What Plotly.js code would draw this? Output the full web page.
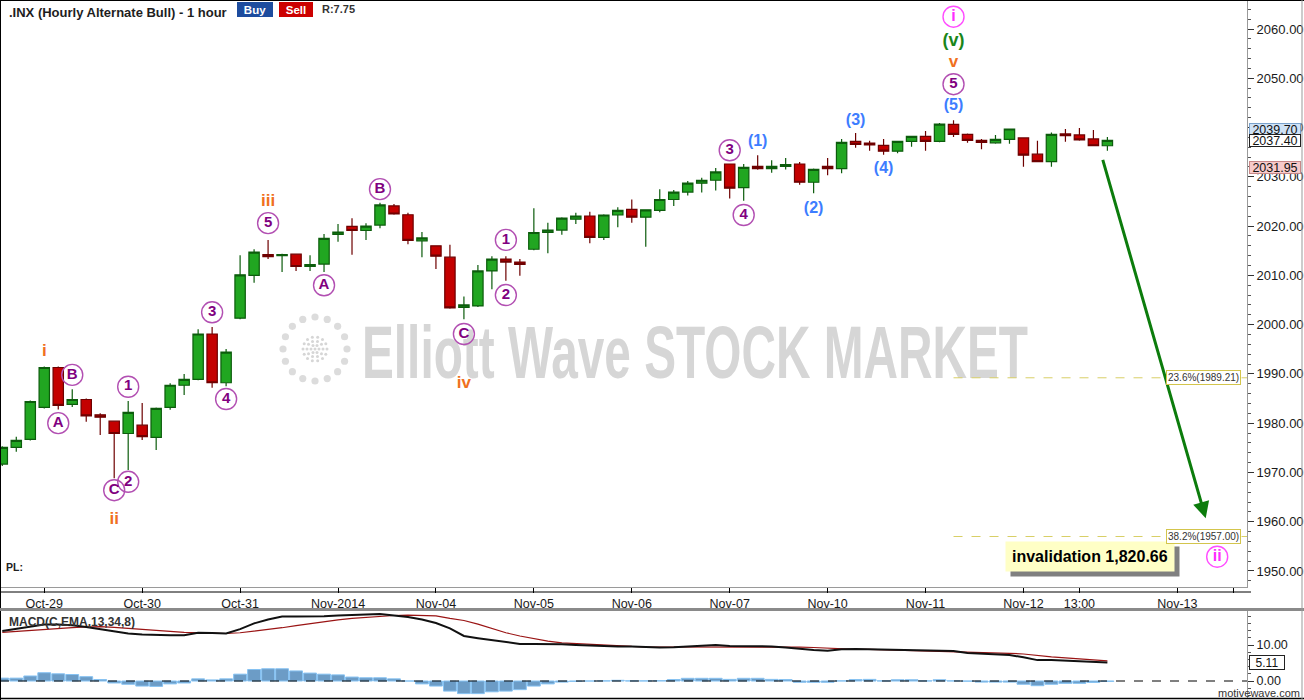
<!DOCTYPE html>
<html><head><meta charset="utf-8">
<script src="https://cdn.plot.ly/plotly-3.0.1.min.js"></script>
<style>
html,body{margin:0;padding:0;background:#fff;}
#wrap{position:relative;width:1304px;height:700px;overflow:hidden;background:#fff;}
#wm{position:absolute;left:0;top:0;width:1304px;height:700px;z-index:0;}
#chart{position:absolute;left:0;top:0;width:1304px;height:700px;z-index:1;}
</style></head>
<body><div id="wrap"><svg id="wm" width="1304" height="700"></svg><div id="chart"></div></div>
<script>
// ---------- data (hourly bars, index 0 = Oct-28 late session) ----------
const barOpen = [1971.7,1975.1,1976.7,1983.2,1991.3,1983.8,1984.8,1981.7,1980.4,1977.9,
 1979.6,1977.1,1983.2,1987.7,1988.9,1998.1,1988.2,2001.3,2010.0,2014.2,
 2014.0,2014.3,2011.8,2012.3,2018.33,2019.95,2019.1,2020.2,2024.1,2022.3,
 2017.0,2016.0,2013.7,2003.5,2003.8,2010.9,2013.3,2012.7,2015.3,2018.7,
 2019.2,2021.4,2022.05,2017.7,2022.25,2023.4,2021.8,2023.2,2025.4,2026.9,
 2028.7,2029.3,2032.6,2027.8,2032.1,2031.65,2032.1,2032.6,2028.9,2032.1,
 2031.65,2037.2,2036.86,2036.4,2035.2,2037.2,2038.2,2037.2,2040.66,2038.6,
 2037.4,2036.9,2037.6,2037.9,2034.6,2033.1,2038.7,2038.5,2037.7,2036.3];
const barHigh = [1975.3,1977.25,1984.6,1991.5,1991.5,1986.9,1985.0,1982.0,1980.5,1984.5,
 1984.1,1983.2,1988.1,1990.0,1999.05,1999.5,1995.05,2014.1,2015.3,2017.2,
 2014.4,2014.4,2014.1,2018.4,2020.4,2021.6,2020.6,2024.75,2024.5,2022.7,
 2018.8,2016.1,2016.2,2005.7,2012.1,2013.9,2013.9,2013.3,2023.6,2020.7,
 2021.8,2022.7,2022.9,2022.4,2023.8,2025.4,2023.4,2027.5,2027.3,2029.15,
 2029.8,2031.8,2032.7,2032.6,2034.4,2033.35,2033.8,2033.0,2031.7,2033.8,
 2037.7,2038.9,2037.3,2037.7,2037.3,2038.3,2039.3,2040.9,2041.5,2038.8,
 2037.7,2038.5,2039.8,2038.0,2037.3,2039.0,2039.7,2039.9,2039.5,2038.1];
const barLow = [1971.3,1974.2,1976.5,1983.0,1982.8,1983.3,1980.3,1977.6,1968.8,1970.5,
 1976.6,1974.55,1982.7,1985.7,1988.7,1987.2,1987.5,2001.1,2008.5,2013.3,
 2010.7,2010.9,2010.9,2010.7,2016.8,2014.2,2017.2,2019.55,2022.3,2016.3,
 2013.7,2011.3,2003.2,2001.1,2003.6,2007.2,2008.9,2009.9,2015.1,2014.5,
 2018.25,2020.4,2016.5,2017.2,2019.75,2020.7,2015.8,2022.8,2024.1,2026.2,
 2026.8,2027.2,2025.6,2025.15,2031.45,2030.8,2031.5,2028.4,2026.65,2030.3,
 2030.7,2035.9,2035.3,2034.5,2034.8,2036.1,2035.3,2037.0,2038.1,2036.9,
 2035.6,2036.7,2036.7,2032.05,2033.0,2032.05,2037.1,2037.3,2036.3,2035.3];
const barClose = [1975.1,1976.5,1984.4,1991.3,1983.6,1984.8,1981.5,1981.2,1977.9,1982.2,
 1977.25,1983.0,1987.7,1988.9,1998.1,1988.2,1994.4,2010.1,2014.7,2013.8,
 2014.2,2011.8,2012.2,2017.5,2018.8,2019.1,2020.0,2024.3,2022.45,2017.1,
 2017.6,2013.9,2003.4,2004.0,2010.9,2013.3,2012.7,2012.2,2018.7,2019.2,
 2021.6,2022.05,2017.7,2022.25,2023.2,2021.8,2023.3,2025.4,2026.9,2028.7,
 2029.3,2031.0,2027.7,2031.9,2031.65,2032.1,2032.5,2028.9,2031.5,2031.65,
 2037.0,2036.6,2036.5,2035.2,2037.2,2038.2,2037.2,2040.7,2038.6,2037.4,
 2037.0,2037.6,2039.7,2034.4,2033.1,2038.6,2038.35,2037.5,2036.3,2037.4];

const macdLine = [13.9,14.5,15.1,15.7,15.7,15.5,15.0,14.4,13.8,13.2,
 12.9,12.7,12.7,12.7,13.4,13.3,13.2,14.4,16.0,17.1,
 17.9,17.9,17.9,18.0,18.2,18.3,18.4,18.6,18.2,17.8,
 17.1,16.1,14.6,12.5,11.9,11.4,10.8,10.3,10.3,10.3,
 10.2,10.0,9.8,9.6,9.6,9.6,9.4,9.3,9.4,9.6,
 9.8,10.0,9.7,9.7,9.7,9.6,9.3,8.9,8.6,8.4,
 8.8,8.9,8.8,8.6,8.5,8.5,8.4,8.4,8.3,7.8,
 7.6,7.3,7.2,6.6,5.8,5.8,5.6,5.3,5.2,5.11];
const signalLine = [13.5,13.8,14.0,14.2,14.5,14.8,15.0,15.1,14.9,14.6,
 14.3,14.0,13.8,13.5,13.4,13.2,13.2,13.4,13.8,14.2,
 14.8,15.4,16.0,16.5,17.0,17.4,17.7,18.0,18.2,18.3,
 18.3,18.1,17.4,16.8,15.8,14.6,13.4,12.5,11.7,11.1,
 10.6,10.4,10.0,9.8,9.7,9.6,9.5,9.5,9.5,9.5,
 9.6,9.6,9.6,9.6,9.6,9.5,9.4,9.4,9.3,9.1,
 8.9,8.8,8.8,8.7,8.6,8.5,8.4,8.3,8.3,8.2,
 8.0,7.9,7.7,7.5,7.0,6.7,6.4,6.1,5.8,5.6];
const macdHist = [0.8,0.8,1.4,2.3,2.0,1.8,1.2,0.4,-0.55,-0.9,
 -1.4,-1.5,-0.8,-0.55,0.6,0.3,0.6,1.9,3.2,3.4,
 3.4,2.8,2.2,1.9,1.7,1.1,0.9,0.9,0.6,0.0,
 -0.8,-1.4,-2.8,-3.5,-3.5,-3.0,-2.8,-2.4,-1.4,-0.8,
 -0.3,-0.1,0.0,0.05,0.2,0.05,0.05,0.1,0.4,0.75,
 0.75,0.75,0.45,0.75,0.75,0.45,0.4,-0.35,-0.35,-0.35,
 0.05,0.4,0.45,0.05,0.35,0.35,0.05,0.35,0.05,-0.05,
 -0.3,-0.3,-0.3,-0.9,-1.3,-0.9,-0.65,-0.65,-0.4,-0.1];

const tickBars = [3,10,17,24,31,38,45,52,59,66,73,77,84,88];
const tickLabels = ['Oct-29','Oct-30','Oct-31','Nov-2014','Nov-04','Nov-05','Nov-06','Nov-07','Nov-10','Nov-11','Nov-12','13:00','Nov-13',''];
const priceTicks = [1950,1960,1970,1980,1990,2000,2010,2020,2030,2040,2050,2060];

const fibLevels = [1989.21, 1957.00];
const fibNames = ['23.6%(1989.21)', '38.2%(1957.00)'];
const lastTags = [2039.70, 2037.40, 2031.95];
const macdLast = 5.11;

// wave labels: text, bar index, price, style
const waveLabels = [
 ['i',3,1994.4,'orange'],['ii',8,1960.3,'orange'],['iii',19,2024.9,'orange'],['iv',33,1988.0,'orange'],['v',68,2053.1,'orange'],
 ['A',4,1980.0,'purple'],['B',5,1989.8,'purple'],['C',8,1966.4,'purple'],['1',9,1987.4,'purple'],['2',9,1968.1,'purple'],
 ['3',15,2002.5,'purple'],['4',16,1984.9,'purple'],['5',19,2020.6,'purple'],['A',23,2008.0,'purple'],['B',27,2027.5,'purple'],
 ['C',33,1998.1,'purple'],['1',36,2017.2,'purple'],['2',36,2006.0,'purple'],['3',52,2035.4,'purple'],['4',53,2022.25,'purple'],
 ['5',68,2048.8,'purple'],
 ['(1)',54,2037.1,'blue'],['(2)',58,2023.5,'blue'],['(3)',61,2041.4,'blue'],['(4)',63,2031.6,'blue'],['(5)',68,2044.3,'blue'],
 ['(v)',68,2057.5,'green'],
 ['i',68,2062.5,'magenta'],['ii',86.85,1952.9,'magenta']
];
const projStart = [78.64, 2033.76];
const projEnd = [86.03, 1960.69];
const invalidationText = 'invalidation 1,820.66';
const invalidationPos = [77.77, 1953.0];

// ---------- watermark (behind the chart) ----------
(function(){
  const svg = document.getElementById('wm');
  const ns = 'http://www.w3.org/2000/svg';
  function dot(cx, cy, r, fill){ const c=document.createElementNS(ns,'circle'); c.setAttribute('cx',cx); c.setAttribute('cy',cy); c.setAttribute('r',r); c.setAttribute('fill',fill); svg.appendChild(c); }
  const cx=315, cy=349;
  for(let i=0;i<16;i++){ const a=i/16*2*Math.PI; dot(cx+32*Math.cos(a), cy+32*Math.sin(a), 3.6, '#dcdcdc'); }
  const rings=[[4,6],[8,10],[12,14]];
  rings.forEach(([r,n])=>{ for(let i=0;i<n;i++){ const a=i/n*2*Math.PI; dot(cx+r*Math.cos(a), cy+r*Math.sin(a), 1.5, '#d6d6d6'); } });
  dot(cx,cy,1.5,'#d6d6d6');
  const t=document.createElementNS(ns,'text');
  t.setAttribute('x',362); t.setAttribute('y',378);
  t.setAttribute('font-family','Liberation Sans Narrow, Liberation Sans, Arial, sans-serif');
  t.setAttribute('font-weight','bold'); t.setAttribute('font-size','74');
  t.setAttribute('fill','#d6d6d6'); t.setAttribute('textLength','666'); t.setAttribute('lengthAdjust','spacingAndGlyphs');
  t.textContent='Elliott Wave STOCK MARKET';
  svg.appendChild(t);
})();

// ---------- traces ----------
const idx = barOpen.map((_, i) => i);
const FONT = 'Liberation Sans, Arial, sans-serif';
const traces = [];
traces.push({
  type:'candlestick', x:idx, open:barOpen, high:barHigh, low:barLow, close:barClose,
  xaxis:'x', yaxis:'y', whiskerwidth:0, hoverinfo:'skip',
  increasing:{fillcolor:'#21a621', line:{color:'#0c5c0c', width:1.2}},
  decreasing:{fillcolor:'#c40000', line:{color:'#6e0000', width:1.2}}
});
traces.push({type:'bar', x:idx, y:macdHist, xaxis:'x2', yaxis:'y2', width:0.92,
  marker:{color:'#6c9cc6', line:{color:'#86c2f2', width:1}}, hoverinfo:'skip'});
traces.push({type:'scatter', mode:'lines', x:idx, y:signalLine, xaxis:'x2', yaxis:'y2',
  line:{color:'#9a1414', width:1.2}, hoverinfo:'skip'});
traces.push({type:'scatter', mode:'lines', x:idx, y:macdLine, xaxis:'x2', yaxis:'y2',
  line:{color:'#111111', width:2}, hoverinfo:'skip'});

const styles = {
  orange:{color:'#f07020', size:17, circle:null},
  purple:{color:'#800080', size:15, circle:'#b24fb2'},
  blue:{color:'#3d7dff', size:16, circle:null},
  green:{color:'#1a861a', size:18, circle:null},
  magenta:{color:'#ff2cff', size:16, circle:'#ff4cff'}
};
Object.keys(styles).forEach(key => {
  const st = styles[key];
  const items = waveLabels.filter(w => w[3] === key);
  const tr = {type:'scatter', x:items.map(w=>w[1]), y:items.map(w=>w[2]), text:items.map(w=>w[0]),
    xaxis:'x', yaxis:'y', hoverinfo:'skip', cliponaxis:false,
    textposition:'middle center', textfont:{family:FONT, size:st.size, color:st.color, weight:'bold'}};
  if(st.circle){ tr.mode='markers+text'; tr.marker={symbol:'circle-open', size:21, color:st.circle, line:{width:1.4}}; }
  else tr.mode='text';
  traces.push(tr);
});

// ---------- layout ----------
const W=1247; // plot right edge in px
const py = px => (700 - px) / 700;
const annotations = [
  {xref:'paper', yref:'paper', x:7/W, y:py(12.5), xanchor:'left', yanchor:'middle', showarrow:false,
   text:'<b>.INX (Hourly Alternate Bull) - 1 hour</b>', font:{family:FONT, size:13, color:'#1e1e1e'}},
  {xref:'paper', yref:'paper', x:255/W, y:py(10), xanchor:'center', yanchor:'middle', showarrow:false,
   text:'<b>Buy</b>', font:{family:FONT, size:11.5, color:'#ffffff'}, bgcolor:'#1d4c9e', bordercolor:'#1d4c9e', borderpad:0, width:34, height:13},
  {xref:'paper', yref:'paper', x:296/W, y:py(10), xanchor:'center', yanchor:'middle', showarrow:false,
   text:'<b>Sell</b>', font:{family:FONT, size:11.5, color:'#ffffff'}, bgcolor:'#cc0000', bordercolor:'#cc0000', borderpad:0, width:32, height:13},
  {xref:'paper', yref:'paper', x:320/W, y:py(9.5), xanchor:'left', yanchor:'middle', showarrow:false,
   text:'<b>R:7.75</b>', font:{family:FONT, size:11, color:'#333333'}},
  {xref:'paper', yref:'paper', x:4/W, y:py(567), xanchor:'left', yanchor:'middle', showarrow:false,
   text:'<b>PL:</b>', font:{family:FONT, size:10.5, color:'#222222'}},
  {xref:'paper', yref:'paper', x:7/W, y:py(622), xanchor:'left', yanchor:'middle', showarrow:false,
   text:'<b>MACD(C,EMA,13,34,8)</b>', font:{family:FONT, size:12, color:'#333333'}},
  {xref:'paper', yref:'paper', x:1302/W, y:py(693), xanchor:'right', yanchor:'middle', showarrow:false,
   text:'motivewave.com', font:{family:FONT, size:11, color:'#333333'}},
  // projection arrow
  {xref:'x', yref:'y', axref:'x', ayref:'y', x:projEnd[0], y:projEnd[1], ax:projStart[0], ay:projStart[1],
   text:'', showarrow:true, arrowhead:2, arrowsize:1.1, arrowwidth:3, arrowcolor:'#0c7c0c', standoff:0},
  // invalidation box with shadow
  {xref:'x', yref:'y', x:invalidationPos[0], y:invalidationPos[1], xshift:5, yshift:-5, showarrow:false,
   text:'<b>'+invalidationText+'</b>', font:{family:FONT, size:16, color:'#808080'}, bgcolor:'#808080', borderpad:6},
  {xref:'x', yref:'y', x:invalidationPos[0], y:invalidationPos[1], showarrow:false,
   text:'<b>'+invalidationText+'</b>', font:{family:FONT, size:16, color:'#000000'}, bgcolor:'#ffffc6', borderpad:6}
];
fibLevels.forEach((lv, i) => {
  annotations.push({xref:'paper', yref:'y', x:1241/W, y:lv, xanchor:'right', yanchor:'middle', showarrow:false,
    text:fibNames[i], font:{family:FONT, size:10, color:'#333333'}, bgcolor:'#ffffff', bordercolor:'#d3c54c', borderwidth:1, borderpad:1});
});
const tagStyles = [['#cfe2f6','#7aa2cc'],['#ffffff','#222222'],['#f6caca','#c88888']];
lastTags.forEach((v, i) => {
  annotations.push({xref:'paper', yref:'y', x:1249/W, y:v, xanchor:'left', yanchor:'middle', showarrow:false,
    text:v.toFixed(2), font:{family:FONT, size:12.5, color:'#111111'}, bgcolor:tagStyles[i][0], bordercolor:tagStyles[i][1], borderwidth:1, borderpad:0, width:50, height:11});
});
annotations.push({xref:'paper', yref:'y2', x:1249/W, y:macdLast, xanchor:'left', yanchor:'middle', showarrow:false,
  text:macdLast.toFixed(2), font:{family:FONT, size:12, color:'#111111'}, bgcolor:'#ffffff', bordercolor:'#222222', borderwidth:1, borderpad:0, width:34, height:13});

const XR = [-0.164, 88.98];
const shapes = [
  {type:'line', xref:'paper', yref:'paper', x0:0, x1:1304/W, y0:1, y1:1, line:{color:'#000', width:2}},
  {type:'line', xref:'paper', yref:'paper', x0:0, x1:0, y0:0, y1:1, line:{color:'#000', width:2}},
  {type:'line', xref:'paper', yref:'paper', x0:0, x1:1251/W, y0:py(592), y1:py(592), line:{color:'#000', width:1}},
  {type:'line', xref:'paper', yref:'paper', x0:0, x1:1304/W, y0:py(609.5), y1:py(609.5), line:{color:'#8a8a8a', width:3}},
  {type:'line', xref:'paper', yref:'paper', x0:0, x1:1304/W, y0:py(698.5), y1:py(698.5), line:{color:'#000', width:1.5}},
  {type:'line', xref:'paper', yref:'paper', x0:1302/W, x1:1302/W, y0:0, y1:1, line:{color:'#999', width:1}},
  {type:'line', xref:'paper', yref:'y2', x0:0, x1:1, y0:0, y1:0, line:{color:'#000', width:1, dash:'dash'}}
];
fibLevels.forEach(lv => shapes.push({type:'line', xref:'x', yref:'y', x0:68, x1:XR[1], y0:lv, y1:lv,
  line:{color:'#d8cf66', width:1, dash:'dash'}}));

const layout = {
  width:1304, height:700, margin:{l:0, r:57, t:0, b:0, pad:0},
  paper_bgcolor:'rgba(0,0,0,0)', plot_bgcolor:'rgba(0,0,0,0)',
  showlegend:false, hovermode:false, dragmode:false,
  boxgap:0.26, boxgroupgap:0, bargap:0,
  font:{family:FONT, size:12, color:'#222'},
  xaxis:{domain:[0,1], anchor:'y', range:XR, tickmode:'array', tickvals:tickBars, ticktext:tickLabels,
    ticks:'outside', ticklen:5, tickcolor:'#000', tickwidth:1, showline:true, linecolor:'#9a9a9a',
    showgrid:false, zeroline:false, rangeslider:{visible:false}, tickfont:{family:FONT, size:12.5, color:'#1a1a1a'}, fixedrange:true},
  yaxis:{domain:[py(587),1], anchor:'x', side:'right', range:[1946.75, 2065.886], tickmode:'array', tickvals:priceTicks,
    tickformat:'.2f', ticks:'outside', ticklen:6, tickcolor:'#333', showline:true, linecolor:'#9a9a9a',
    minor:{dtick:2, ticks:'outside', ticklen:3, tickcolor:'#555', showgrid:false},
    showgrid:false, zeroline:false, tickfont:{family:FONT, size:13, color:'#1a1a1a'}, fixedrange:true},
  xaxis2:{domain:[0,1], anchor:'y2', matches:'x', range:XR, showticklabels:false, ticks:'', showline:false, showgrid:false, zeroline:false, fixedrange:true},
  yaxis2:{domain:[py(698),py(609)], anchor:'x2', side:'right', range:[-4.72, 20], tickmode:'array', tickvals:[0,10],
    tickformat:'.2f', ticks:'outside', ticklen:6, tickcolor:'#333', showline:true, linecolor:'#9a9a9a',
    minor:{dtick:2, ticks:'outside', ticklen:3, tickcolor:'#555', showgrid:false},
    showgrid:false, zeroline:false, tickfont:{family:FONT, size:12.5, color:'#1a1a1a'}, fixedrange:true},
  shapes:shapes, annotations:annotations
};
Plotly.newPlot('chart', traces, layout, {displayModeBar:false, staticPlot:true});
</script>
</body></html>
